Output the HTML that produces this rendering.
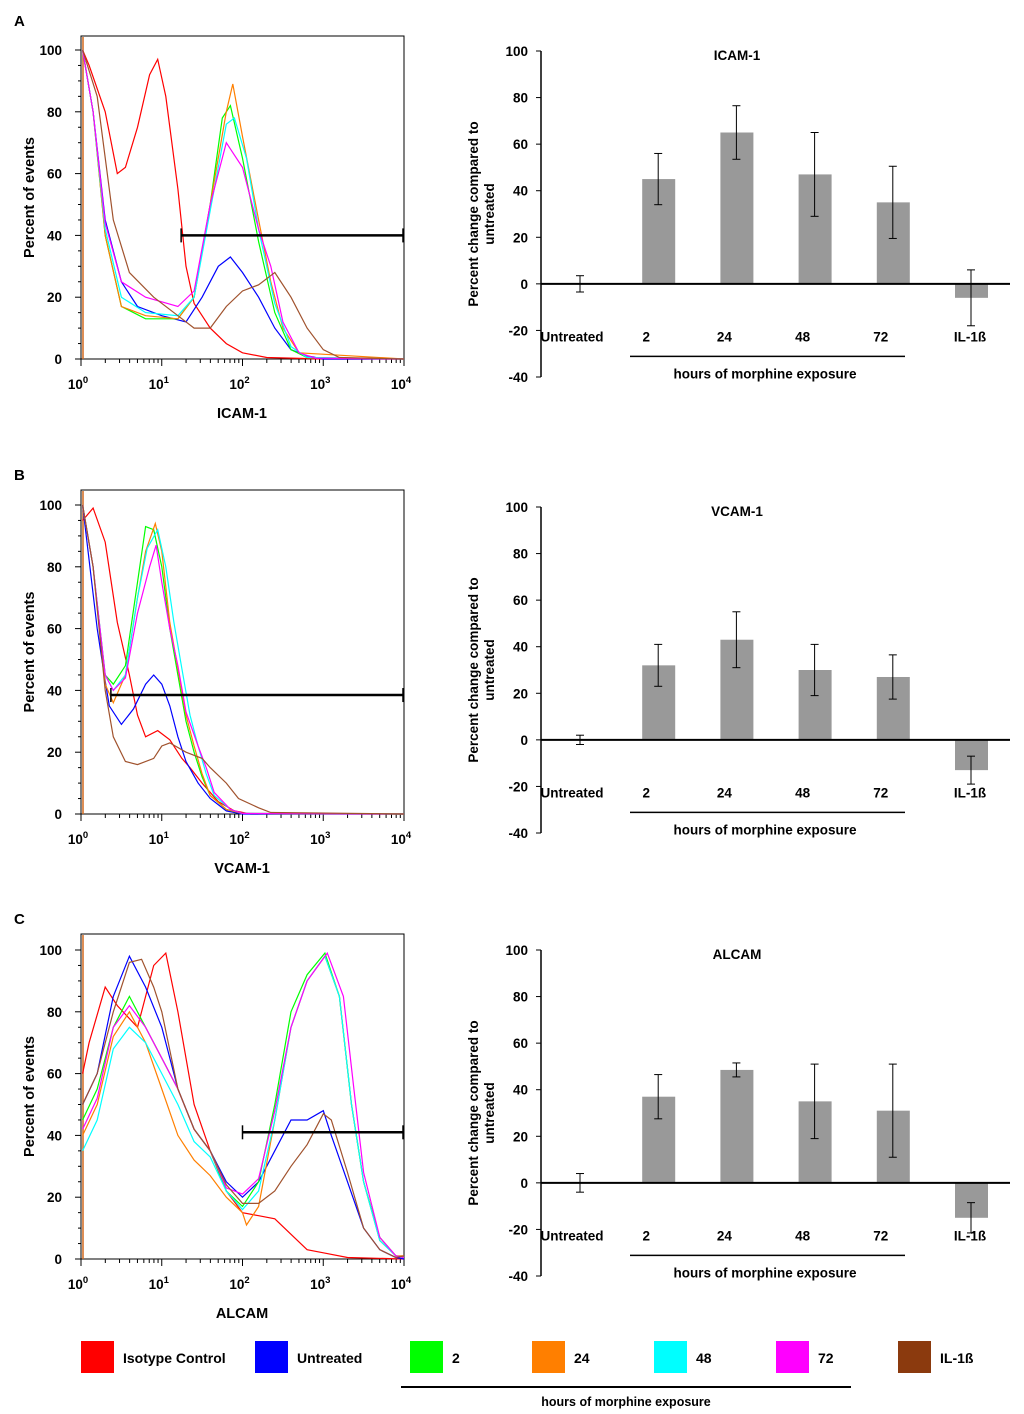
<!DOCTYPE html>
<html><head><meta charset="utf-8"><style>
html,body{margin:0;padding:0;background:#fff}
svg{display:block}
text{font-family:"Liberation Sans",Arial,sans-serif;font-weight:bold;fill:#000}
</style></head><body>
<svg id="fig" width="1024" height="1414" viewBox="0 0 1024 1414" xmlns="http://www.w3.org/2000/svg"></svg>
<script>
// ---------- data ----------
const seriesNames = ["Isotype Control","Untreated","2","24","48","72","IL-1ß"];
const seriesColors = ["#ff0000","#0000ff","#00ff00","#ff7f00","#00ffff","#ff00ff","#a0522d"];
const barCategories = ["Untreated","2","24","48","72","IL-1ß"];
const icamBarValues = [0,45,65,47,35,-6];
const icamBarErrors = [3.5,11,11.5,18,15.5,12];
const vcamBarValues = [0,32,43,30,27,-13];
const vcamBarErrors = [2,9,12,11,9.5,6];
const alcamBarValues = [0,37,48.5,35,31,-15];
const alcamBarErrors = [4,9.5,3,16,20,6.5];
const barYTicks = [-40,-20,0,20,40,60,80,100];
const histYTicks = [0,20,40,60,80,100];
const histXDecades = [0,1,2,3,4];
// histogram curves: [log10(fluorescence), percent]
const icamRed=[[0.02,100],[0.1,95],[0.3,80],[0.45,60],[0.55,62],[0.7,75],[0.85,92],[0.95,97],[1.05,85],[1.2,55],[1.3,30],[1.4,18],[1.6,10],[1.8,5],[2.0,2],[2.3,0.5],[3,0],[4,0]];
const icamBlue=[[0.02,100],[0.15,80],[0.3,45],[0.5,25],[0.7,17],[1.0,14],[1.3,12],[1.5,20],[1.7,30],[1.85,33],[2.0,28],[2.2,20],[2.4,10],[2.6,3],[2.8,1],[3,0],[4,0]];
const icamGreen=[[0.02,100],[0.15,80],[0.3,40],[0.5,17],[0.8,13],[1.2,13],[1.4,20],[1.6,50],[1.75,78],[1.85,82],[2.0,65],[2.2,38],[2.4,15],[2.6,3],[2.8,0.5],[4,0]];
const icamOrange=[[0.02,100],[0.15,80],[0.3,40],[0.5,17],[0.8,14],[1.2,13],[1.4,20],[1.6,50],[1.8,80],[1.88,89],[2.0,72],[2.2,45],[2.35,25],[2.5,10],[2.7,2],[4,0]];
const icamCyan=[[0.02,100],[0.15,80],[0.3,42],[0.5,20],[0.8,15],[1.2,14],[1.4,20],[1.6,48],[1.8,76],[1.9,78],[2.05,65],[2.2,42],[2.4,18],[2.6,4],[2.8,0.5],[4,0]];
const icamMagenta=[[0.02,100],[0.15,80],[0.3,44],[0.5,25],[0.8,20],[1.2,17],[1.4,22],[1.6,50],[1.8,70],[2.0,62],[2.2,42],[2.35,30],[2.5,12],[2.7,2],[2.9,0.3],[4,0]];
const icamBrown=[[0.02,100],[0.2,85],[0.4,45],[0.6,28],[0.9,20],[1.2,14],[1.4,10],[1.6,10],[1.8,17],[2.0,22],[2.2,24],[2.4,28],[2.6,20],[2.8,10],[3.0,3],[3.2,0.5],[4,0]];
const vcamRed=[[0.02,95],[0.15,99],[0.3,88],[0.45,62],[0.6,45],[0.7,32],[0.8,25],[0.95,27],[1.1,24],[1.25,18],[1.35,15],[1.5,10],[1.7,4],[1.9,1],[2.1,0],[4,0]];
const vcamBlue=[[0.02,100],[0.2,60],[0.3,43],[0.35,35],[0.5,29],[0.65,34],[0.8,42],[0.9,45],[1.0,42],[1.1,35],[1.2,25],[1.3,17],[1.45,10],[1.6,5],[1.8,1],[2,0],[4,0]];
const vcamGreen=[[0.02,100],[0.15,80],[0.3,45],[0.4,42],[0.55,48],[0.7,75],[0.8,93],[0.9,92],[1.0,80],[1.1,60],[1.2,45],[1.3,30],[1.4,20],[1.5,12],[1.6,6],[1.8,1.5],[2,0.2],[4,0]];
const vcamOrange=[[0.02,100],[0.15,80],[0.3,42],[0.4,36],[0.55,45],[0.7,70],[0.8,85],[0.92,94],[1.0,85],[1.1,62],[1.2,47],[1.3,32],[1.4,22],[1.5,13],[1.6,6],[1.8,1.5],[2,0.2],[4,0]];
const vcamCyan=[[0.02,100],[0.15,80],[0.3,45],[0.4,40],[0.55,45],[0.7,70],[0.82,86],[0.95,92],[1.05,80],[1.15,62],[1.25,47],[1.35,32],[1.45,22],[1.55,13],[1.65,6],[1.85,1.5],[2,0.2],[4,0]];
const vcamMagenta=[[0.02,100],[0.15,80],[0.3,45],[0.4,40],[0.55,44],[0.7,65],[0.85,80],[0.93,87],[1.0,75],[1.1,60],[1.2,48],[1.3,33],[1.45,22],[1.55,15],[1.65,7],[1.85,1.5],[2,0.2],[4,0]];
const vcamBrown=[[0.02,100],[0.15,80],[0.3,40],[0.4,25],[0.55,17],[0.7,16],[0.9,18],[1.0,22],[1.1,23],[1.3,20],[1.5,18],[1.6,15],[1.8,10],[1.95,5],[2.2,2],[2.35,0.5],[4,0]];
const alcamRed=[[0.02,60],[0.1,70],[0.3,88],[0.45,82],[0.7,75],[0.9,95],[1.05,99],[1.2,80],[1.4,50],[1.6,35],[1.8,22],[2.0,15],[2.2,14],[2.4,13],[2.6,8],[2.8,3],[3.0,2],[3.3,0.5],[4,0]];
const alcamBlue=[[0.02,50],[0.2,60],[0.4,85],[0.6,98],[0.8,88],[1.0,75],[1.2,55],[1.4,42],[1.6,35],[1.8,25],[2.0,20],[2.2,25],[2.4,35],[2.6,45],[2.8,45],[3.0,48],[3.1,40],[3.3,25],[3.5,10],[3.7,3],[3.9,0.5],[4,0]];
const alcamGreen=[[0.02,45],[0.2,55],[0.4,75],[0.6,85],[0.8,75],[1.0,65],[1.2,55],[1.4,42],[1.6,35],[1.8,22],[2.0,17],[2.2,25],[2.4,50],[2.6,80],[2.8,92],[3.02,99],[3.2,85],[3.35,50],[3.5,25],[3.7,7],[3.9,1],[4,0.5]];
const alcamOrange=[[0.02,40],[0.2,50],[0.4,72],[0.6,80],[0.8,70],[1.0,55],[1.2,40],[1.4,32],[1.6,27],[1.8,20],[2.0,15],[2.05,11],[2.2,17],[2.4,45],[2.6,75],[2.8,90],[3.02,98],[3.2,85],[3.35,50],[3.5,25],[3.7,6],[3.9,1],[4,1]];
const alcamCyan=[[0.02,35],[0.2,45],[0.4,68],[0.6,75],[0.8,70],[1.0,60],[1.2,50],[1.4,38],[1.6,33],[1.8,22],[2.0,16],[2.2,22],[2.4,45],[2.6,75],[2.8,90],[3.02,98],[3.2,85],[3.35,50],[3.5,25],[3.7,6],[3.9,1],[4,0.5]];
const alcamMagenta=[[0.02,42],[0.2,52],[0.4,75],[0.6,82],[0.8,75],[1.0,65],[1.2,55],[1.4,42],[1.6,35],[1.8,23],[2.0,21],[2.2,26],[2.4,48],[2.6,75],[2.8,90],[3.05,99],[3.25,85],[3.38,55],[3.5,28],[3.7,7],[3.9,1],[4,0.5]];
const alcamBrown=[[0.02,50],[0.2,60],[0.4,80],[0.6,96],[0.75,97],[0.9,88],[1.0,80],[1.2,55],[1.4,42],[1.6,35],[1.8,24],[2.0,18],[2.2,18],[2.4,22],[2.6,30],[2.8,37],[3.0,47],[3.1,45],[3.3,28],[3.5,10],[3.7,3],[3.9,0.5],[4,1]];

// ---------- helpers ----------
const NS="http://www.w3.org/2000/svg";
const svg=document.getElementById('fig');
function mk(tag,attrs,parent){const e=document.createElementNS(NS,tag);for(const k in attrs)e.setAttribute(k,attrs[k]);(parent||svg).appendChild(e);return e;}
function txt(s,attrs,parent){const e=mk('text',attrs,parent);e.textContent=s;return e;}

// ---------- histograms ----------
function histogram(cfg){
  const g=mk('g',{});
  
  
  const x0=81,x1=404,top=cfg.top,y0=cfg.y0,y100=cfg.y100;
  const sx=v=>x0+(x1-x0)*v/4;
  const sy=v=>y0-(y0-y100)*v/100;
  const pl=txt(cfg.letter,{x:14,y:cfg.top-10,'font-size':15});
  
  
  const frame=mk('rect',{x:x0,y:top,width:x1-x0,height:y0-top,fill:'none',stroke:'#000','stroke-width':1},g);
  
  
  for(let v=0;v<=100;v+=5){mk('line',{x1:x0-(v%20===0?6:3),x2:x0,y1:sy(v),y2:sy(v),stroke:'#000'},g);}
  histYTicks.forEach(v=>{const t=txt(String(v),{x:62,y:sy(v)+5,'text-anchor':'end','font-size':13.5},g);
    });
  histXDecades.forEach(d=>{
    mk('line',{x1:sx(d),x2:sx(d),y1:y0,y2:y0+7,stroke:'#000'},g);
    if(d<4)for(let k=2;k<10;k++){const xx=sx(d+Math.log10(k));mk('line',{x1:xx,x2:xx,y1:y0,y2:y0+4,stroke:'#000'},g);}
    const t=txt('10',{x:sx(d)-3,y:y0+30,'text-anchor':'middle','font-size':13.5},g);
    const sup=mk('tspan',{dy:-6,'font-size':9.5},t);sup.textContent=String(d);
    
  });
  const xt=txt(cfg.name,{x:242,y:y0+59,'text-anchor':'middle','font-size':14.5},g);
  
  const yt=txt('Percent of events',{x:0,y:0,'text-anchor':'middle','font-size':14.5,transform:`translate(34,${(top+y0)/2}) rotate(-90)`},g);
  
  mk('line',{x1:x0+2,x2:x0+2,y1:top+1,y2:y0,stroke:'#d2691e','stroke-width':1.5},g);
  cfg.curves.forEach((c,i)=>{
    const p=mk('polyline',{points:c.map(q=>sx(q[0]).toFixed(1)+','+sy(q[1]).toFixed(1)).join(' '),fill:'none',stroke:seriesColors[i],'stroke-width':1.2},g);
    
    
  });
  const gate=mk('g',{},g);
  
  
  const gy=sy(cfg.gateY),gx=sx(cfg.gateX);
  mk('line',{x1:gx,x2:x1,y1:gy,y2:gy,stroke:'#000','stroke-width':2.5},gate);
  mk('line',{x1:gx,x2:gx,y1:gy-7,y2:gy+7,stroke:'#000','stroke-width':1.5},gate);
  mk('line',{x1:x1-1,x2:x1-1,y1:gy-7,y2:gy+7,stroke:'#000','stroke-width':1.5},gate);
}
histogram({name:'ICAM-1',letter:'A',top:36,y0:359,y100:50,gateY:40,gateX:1.24,
  curves:[icamRed,icamBlue,icamGreen,icamOrange,icamCyan,icamMagenta,icamBrown]});
histogram({name:'VCAM-1',letter:'B',top:490,y0:814,y100:505,gateY:38.5,gateX:0.37,
  curves:[vcamRed,vcamBlue,vcamGreen,vcamOrange,vcamCyan,vcamMagenta,vcamBrown]});
histogram({name:'ALCAM',letter:'C',top:934,y0:1259,y100:950,gateY:41,gateX:2.0,
  curves:[alcamRed,alcamBlue,alcamGreen,alcamOrange,alcamCyan,alcamMagenta,alcamBrown]});

// ---------- bar charts ----------
function barChart(cfg){
  const g=mk('g',{});
  
  
  const ax=541,y100=cfg.y100,y40=cfg.yMinus40;
  const sy=v=>y100+(y40-y100)*(100-v)/140;
  const cx=i=>580+78.2*i;
  mk('line',{x1:ax,x2:ax,y1:y100,y2:y40,stroke:'#000','stroke-width':1.5},g);
  barYTicks.forEach(v=>{mk('line',{x1:ax-5,x2:ax,y1:sy(v),y2:sy(v),stroke:'#000'},g);
    const t=txt(String(v),{x:528,y:sy(v)+5,'text-anchor':'end','font-size':13.5},g);
    });
  const tt=txt(cfg.name,{x:737,y:y100+9,'text-anchor':'middle','font-size':13.5},g);
  
  const yt=txt('',{x:0,y:0,'text-anchor':'middle','font-size':13.5,transform:`translate(478,${(y100+y40)/2}) rotate(-90)`},g);
  const a=mk('tspan',{x:0,dy:0},yt);a.textContent='Percent change compared to';
  const b=mk('tspan',{x:0,dy:16},yt);b.textContent='untreated';
  
  cfg.values.forEach((v,i)=>{
    const r=mk('rect',{x:cx(i)-16,y:Math.min(sy(v),sy(0)),width:33,height:Math.abs(sy(v)-sy(0)),fill:'#999999'},g);
    
    
  });
  mk('line',{x1:ax,x2:1010,y1:sy(0),y2:sy(0),stroke:'#000','stroke-width':2},g);
  cfg.values.forEach((v,i)=>{
    const e=mk('g',{},g);
    
    
    const hi=sy(v+cfg.errors[i]),lo=sy(v-cfg.errors[i]);
    mk('line',{x1:cx(i),x2:cx(i),y1:hi,y2:lo,stroke:'#000'},e);
    mk('line',{x1:cx(i)-4,x2:cx(i)+4,y1:hi,y2:hi,stroke:'#000'},e);
    mk('line',{x1:cx(i)-4,x2:cx(i)+4,y1:lo,y2:lo,stroke:'#000'},e);
    const lx=i===0?572:(i===5?cx(i)-1:cx(i)-12);
    const t=txt(barCategories[i],{x:lx,y:sy(-20)+11,'text-anchor':'middle','font-size':13.5},g);
    
  });
  mk('line',{x1:630,x2:905,y1:sy(-20)+26,y2:sy(-20)+26,stroke:'#000','stroke-width':1.5},g);
  const h=txt('hours of morphine exposure',{x:765,y:sy(-20)+48,'text-anchor':'middle','font-size':13.5},g);
  
}
barChart({name:'ICAM-1',y100:51,yMinus40:377,values:icamBarValues,errors:icamBarErrors});
barChart({name:'VCAM-1',y100:507,yMinus40:833,values:vcamBarValues,errors:vcamBarErrors});
barChart({name:'ALCAM',y100:950,yMinus40:1276,values:alcamBarValues,errors:alcamBarErrors});

// ---------- legend ----------
const legend=mk('g',{});


const legendX=[81,255,410,532,654,776,898];
seriesNames.forEach((n,i)=>{
  const e=mk('g',{},legend);
  
  
  mk('rect',{x:legendX[i],y:1341,width:33,height:32,fill:i===6?'#8b3a0e':seriesColors[i]},e);
  txt(n,{x:legendX[i]+42,y:1363,'font-size':14},e);
});
mk('line',{x1:401,x2:851,y1:1387,y2:1387,stroke:'#000','stroke-width':2},legend);
const lh=txt('hours of morphine exposure',{x:626,y:1406,'text-anchor':'middle','font-size':12.5,'font-weight':'normal'},legend);


</script>
</body></html>
